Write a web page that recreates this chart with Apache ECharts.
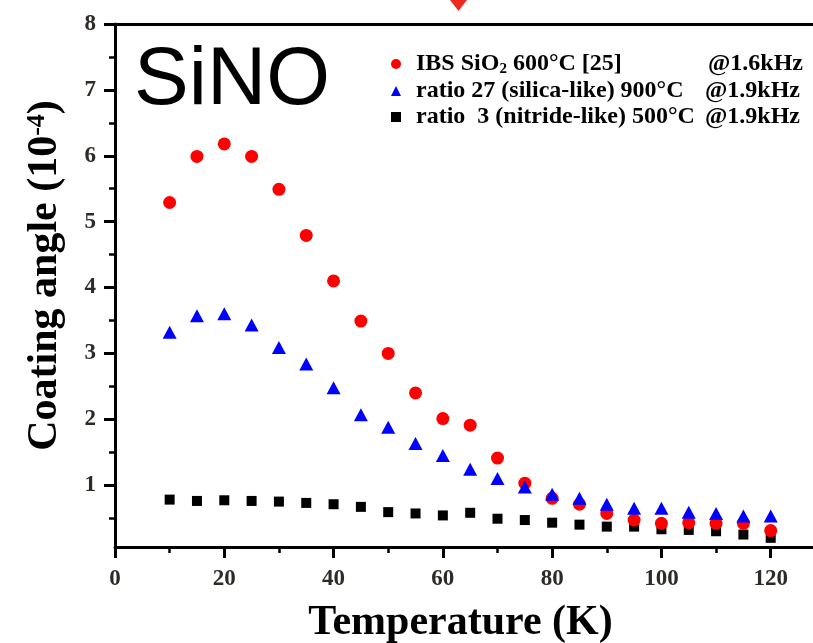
<!DOCTYPE html>
<html>
<head>
<meta charset="utf-8">
<script src="https://cdn.jsdelivr.net/npm/echarts@6/dist/echarts.min.js"></script>
<style>
  html, body { margin: 0; padding: 0; background: #fff; }
  #chart { width: 813px; height: 643px; }
</style>
</head>
<body>
<div id="chart"></div>
<script>
// Measurement temperatures (K)
const temperatures = [10, 15, 20, 25, 30, 35, 40, 45, 50, 55, 60, 65, 70, 75, 80, 85, 90, 95, 100, 105, 110, 115, 120];

// Coating loss angle (x 1e-4) for each sample
const ibsSiO2     = [5.29, 5.99, 6.18, 5.99, 5.49, 4.79, 4.10, 3.49, 3.00, 2.40, 2.01, 1.91, 1.41, 1.03, 0.80, 0.71, 0.57, 0.47, 0.42, 0.43, 0.42, 0.42, 0.31];
const silicaLike  = [3.32, 3.57, 3.60, 3.43, 3.09, 2.84, 2.48, 2.07, 1.88, 1.63, 1.45, 1.24, 1.10, 0.97, 0.86, 0.80, 0.71, 0.65, 0.65, 0.59, 0.57, 0.53, 0.53];
const nitrideLike = [0.78, 0.76, 0.77, 0.76, 0.75, 0.73, 0.71, 0.67, 0.59, 0.57, 0.54, 0.58, 0.49, 0.47, 0.43, 0.40, 0.37, 0.37, 0.33, 0.32, 0.30, 0.25, 0.20];

// Legend entries
const seriesNames = ['IBS SiO2 600°C [25]', 'ratio 27 (silica-like) 900°C', 'ratio  3 (nitride-like) 500°C'];
const legendParts = [
  [['a', 'IBS SiO'], ['s', '2'], ['a', ' 600°C [25]']],
  [['a', 'ratio 27 (silica-like) 900°C']],
  [['a', 'ratio  3 (nitride-like) 500°C']]
];
const frequencies = ['@1.6kHz', '@1.9kHz', '@1.9kHz'];
const frequencyColumn = [292, 289, 289];

// Axis ticks
const yTickValues = [1, 2, 3, 4, 5, 6, 7, 8];

const SERIF = '"Liberation Serif", "Times New Roman", serif';
const SANS = '"Liberation Sans", Arial, sans-serif';

const measureCtx = document.createElement('canvas').getContext('2d');
function textWidth(str, size) {
  measureCtx.font = 'bold ' + size + 'px ' + SERIF;
  return measureCtx.measureText(str).width;
}

const LEGEND_SIZE = 24;
const SUB_SIZE = 15;
const legendRich = {
  a: { fontFamily: SERIF, fontWeight: 'bold', fontSize: LEGEND_SIZE, color: '#000', lineHeight: 26 },
  s: { fontFamily: SERIF, fontWeight: 'bold', fontSize: SUB_SIZE, color: '#000', lineHeight: 15, padding: [11, 0, 0, 0] }
};
const legendText = {};
seriesNames.forEach(function (name, i) {
  let str = '';
  let w = 0;
  legendParts[i].forEach(function (p) {
    str += '{' + p[0] + '|' + p[1] + '}';
    w += textWidth(p[1], p[0] === 's' ? SUB_SIZE : LEGEND_SIZE);
  });
  const key = 'f' + i;
  legendRich[key] = {
    fontFamily: SERIF, fontWeight: 'bold', fontSize: LEGEND_SIZE, color: '#000', lineHeight: 26,
    padding: [0, 0, 0, Math.max(4, frequencyColumn[i] - w)]
  };
  str += '{' + key + '|' + frequencies[i] + '}';
  legendText[name] = str;
});

function pairs(values) {
  return temperatures.map(function (t, i) { return [t, values[i]]; });
}

const tickLabelStyle = { fontFamily: SERIF, fontWeight: 'bold', fontSize: 23, color: '#2e2a26' };

const chart = echarts.init(document.getElementById('chart'), null, { renderer: 'canvas' });
chart.setOption({
  animation: false,
  backgroundColor: '#fff',
  // the plot frame runs past the right edge of the canvas
  grid: { left: 115, width: 765, top: 24, bottom: 92, containLabel: false, outerBoundsMode: 'none' },
  legend: {
    orient: 'vertical',
    left: 386,
    top: 46,
    itemWidth: 10,
    itemHeight: 10,
    itemGap: 2,
    selectedMode: false,
    data: [
      { name: seriesNames[0], icon: 'circle' },
      { name: seriesNames[1], icon: 'triangle' },
      { name: seriesNames[2], icon: 'rect' }
    ],
    formatter: function (name) { return legendText[name]; },
    textStyle: { padding: [0, 0, 0, 10], rich: legendRich }
  },
  xAxis: [{
    type: 'value',
    min: 0,
    max: 140,
    interval: 20,
    offset: -4,
    axisLine: { show: true, lineStyle: { color: '#000', width: 3 } },
    axisTick: { show: true, inside: false, length: 11, lineStyle: { color: '#000', width: 3 } },
    minorTick: { show: true, splitNumber: 2, length: 6, lineStyle: { color: '#000', width: 2.5 } },
    splitLine: { show: false },
    minorSplitLine: { show: false },
    axisLabel: Object.assign({ margin: 21, showMaxLabel: false }, tickLabelStyle),
    name: 'Temperature (K)',
    nameLocation: 'middle',
    nameGap: 55,
    nameTextStyle: {
      fontFamily: SERIF, fontWeight: 'bold', fontSize: 42, color: '#000',
      padding: [0, 74, 0, 0]
    }
  }, {
    type: 'value',
    position: 'top',
    min: 0,
    max: 140,
    axisLine: { show: true, lineStyle: { color: '#000', width: 3 } },
    axisTick: { show: false },
    axisLabel: { show: false },
    splitLine: { show: false }
  }],
  yAxis: {
    type: 'value',
    min: 0,
    max: 8,
    interval: 1,
    axisLine: { show: true, lineStyle: { color: '#000', width: 3 } },
    axisTick: { show: true, inside: false, length: 11, customValues: yTickValues, lineStyle: { color: '#000', width: 3 } },
    minorTick: { show: true, splitNumber: 2, length: 6, lineStyle: { color: '#000', width: 2.5 } },
    splitLine: { show: false },
    minorSplitLine: { show: false },
    axisLabel: Object.assign({ margin: 19, customValues: yTickValues, padding: [5, 0, 0, 0] }, tickLabelStyle),
    name: '{t|Coating angle (10}{u|-4}{t|)}',
    nameLocation: 'middle',
    nameGap: 49,
    nameTextStyle: {
      padding: [0, 0, 0, 24],
      rich: {
        t: { fontFamily: SERIF, fontWeight: 'bold', fontSize: 42, color: '#000', lineHeight: 42 },
        u: { fontFamily: SERIF, fontWeight: 'bold', fontSize: 26, color: '#000', lineHeight: 26, padding: [0, 0, 16, 0] }
      }
    }
  },
  graphic: [
    {
      type: 'text',
      left: 134,
      top: 40,
      style: { text: 'SiNO', font: '82px ' + SANS, fill: '#000' }
    },
    {
      type: 'polygon',
      shape: { points: [[450, 0], [467, 0], [458.5, 11]] },
      style: { fill: '#ec2a1f' }
    }
  ],
  series: [
    {
      name: seriesNames[2],
      type: 'scatter',
      symbol: 'rect',
      symbolSize: 10,
      itemStyle: { color: '#000', opacity: 1 },
      data: pairs(nitrideLike)
    },
    {
      name: seriesNames[0],
      type: 'scatter',
      symbol: 'circle',
      symbolSize: 13,
      itemStyle: { color: '#ff0000', opacity: 1 },
      data: pairs(ibsSiO2)
    },
    {
      name: seriesNames[1],
      type: 'scatter',
      symbol: 'triangle',
      symbolSize: [14, 13],
      itemStyle: { color: '#0000ff', opacity: 1 },
      data: pairs(silicaLike)
    }
  ]
});
</script>
</body>
</html>
